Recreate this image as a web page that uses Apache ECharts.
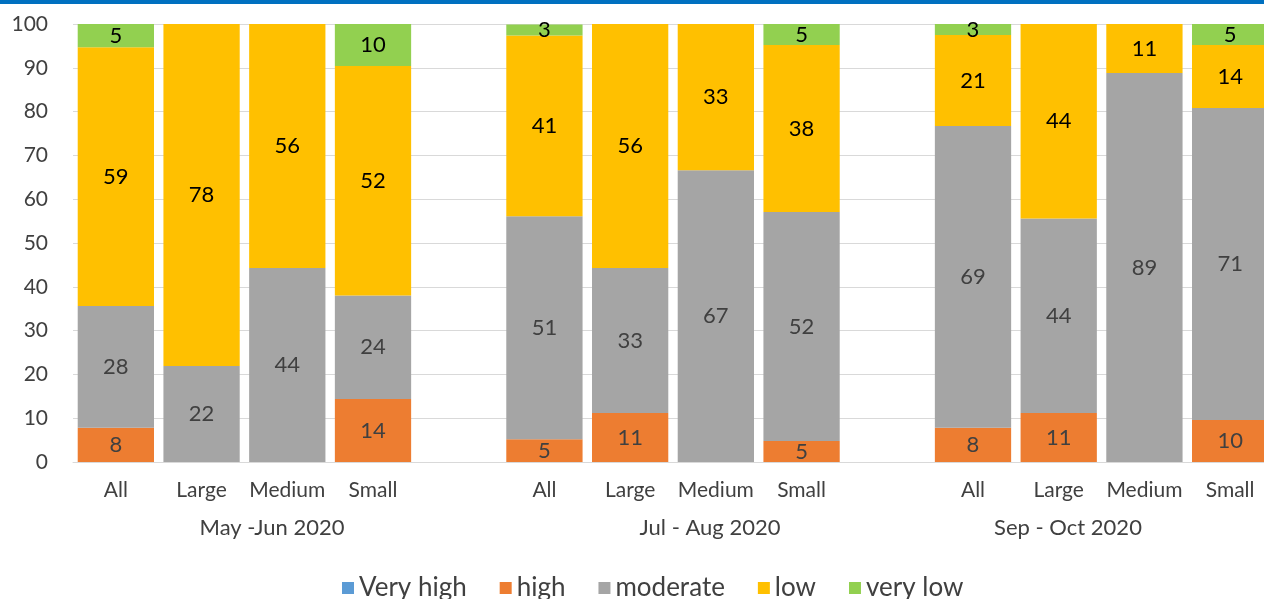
<!DOCTYPE html>
<html>

<head>
    <meta charset="utf-8">
    <title>Risk levels</title>
    <script src="https://cdn.jsdelivr.net/npm/echarts@6/dist/echarts.min.js"></script>
    <style>
        body { margin: 0; background: #fff; overflow: hidden; }
    </style>
</head>

<body>
    <!-- chart is a bit wider than the window: the last bar is cut off like in the original -->
    <div id="main" style="width: 1273px;height:599px;"></div>
    <script type="text/javascript">
        // categories: 3 periods x 4 firm sizes, with an empty slot between periods
        var categories = ['All', 'Large', 'Medium', 'Small', '',
            'All', 'Large', 'Medium', 'Small', '',
            'All', 'Large', 'Medium', 'Small'];
        var periods = ['May -Jun 2020', 'Jul - Aug 2020', 'Sep - Oct 2020'];
        var seriesNames = ['Very high', 'high', 'moderate', 'low', 'very low'];
        var colors = ['#5B9BD5', '#ED7D31', '#A5A5A5', '#FFC000', '#92D050'];

        // shares in % (labels show rounded values)
        var veryHigh = [0, 0, 0, 0, null, 0, 0, 0, 0, null, 0, 0, 0, 0];
        var high     = [7.8, 0, 0, 14.4, null, 5.2, 11.2, 0, 4.8, null, 7.8, 11.2, 0, 9.6];
        var moderate = [27.8, 21.9, 44.3, 23.6, null, 50.9, 33.1, 66.6, 52.3, null, 68.9, 44.4, 88.8, 71.2];
        var low      = [59.1, 78.1, 55.7, 52.4, null, 41.3, 55.7, 33.4, 38.1, null, 20.8, 44.4, 11.2, 14.4];
        var veryLow  = [5.3, 0, 0, 9.6, null, 2.5, 0, 0, 4.8, null, 2.5, 0, 0, 4.8];
        var yTicks = [0, 10, 20, 30, 40, 50, 60, 70, 80, 90, 100];

        var allData = [veryHigh, high, moderate, low, veryLow];
        var labelColors = ['#404040', '#404040', '#404040', '#000000', '#000000'];
        var FONT = 'Lato';

        var dom = document.getElementById("main");
        var myChart = echarts.init(dom);

        var series = seriesNames.map(function (name, i) {
            return {
                name: name,
                type: 'bar',
                stack: 'total',
                barCategoryGap: '11%',
                itemStyle: { color: colors[i] },
                label: {
                    show: true,
                    position: 'inside',
                    fontFamily: FONT,
                    fontSize: 22,
                    color: labelColors[i],
                    formatter: function (p) {
                        if (!p.value) return '';
                        return Math.round(p.value);
                    }
                },
                emphasis: { disabled: true },
                data: allData[i]
            };
        });

        // period labels under each group of bars
        var periodX = [272, 710, 1068];
        var graphics = periods.map(function (t, i) {
            return {
                type: 'text',
                x: periodX[i],
                y: 528,
                style: {
                    text: t,
                    fontFamily: FONT,
                    fontSize: 22,
                    fill: '#404040',
                    align: 'center',
                    verticalAlign: 'middle'
                }
            };
        });
        // blue band on top
        graphics.push({
            type: 'rect',
            shape: { x: 0, y: 0, width: 1273, height: 4 },
            style: { fill: '#0070C0' }
        });

        var option = {
            animation: false,
            grid: { left: 73, right: 0, top: 24, bottom: 137, containLabel: false },
            legend: {
                data: seriesNames,
                left: 337,
                top: 570,
                icon: 'rect',
                itemWidth: 12,
                itemHeight: 12,
                itemGap: 33,
                textStyle: { fontFamily: FONT, fontSize: 26, color: '#404040' }
            },
            xAxis: {
                type: 'category',
                data: categories,
                axisTick: { show: false },
                axisLine: { lineStyle: { color: '#D9D9D9' } },
                axisLabel: {
                    interval: 0,
                    margin: 18,
                    fontFamily: FONT,
                    fontSize: 21,
                    color: '#404040'
                }
            },
            yAxis: {
                type: 'value',
                min: yTicks[0],
                max: yTicks[yTicks.length - 1],
                interval: 10,
                axisLine: { show: false },
                axisTick: { show: false },
                splitLine: { lineStyle: { color: '#D9D9D9', width: 1 } },
                axisLabel: {
                    margin: 25,
                    fontFamily: FONT,
                    fontSize: 21,
                    color: '#404040'
                }
            },
            graphic: graphics,
            series: series
        };

        myChart.setOption(option, true);
    </script>
</body>

</html>
